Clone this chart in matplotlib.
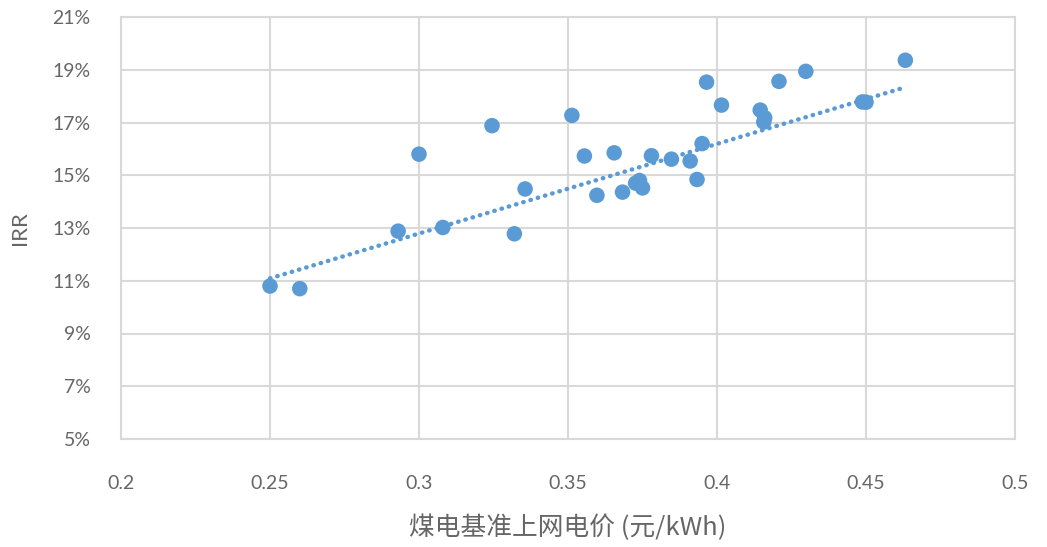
import numpy as np
import matplotlib
matplotlib.use("Agg")
import matplotlib.pyplot as plt
from matplotlib.ticker import FuncFormatter

# Data: coal benchmark grid price (yuan/kWh) vs IRR (%)
price = [0.250, 0.260, 0.293, 0.300, 0.308, 0.3245, 0.332, 0.3356, 0.3513, 0.3555,
         0.3597, 0.3655, 0.3683, 0.3727, 0.3740, 0.3750, 0.3780, 0.3847, 0.3910, 0.3933,
         0.3950, 0.3965, 0.4015, 0.4145, 0.4160, 0.4157, 0.4208, 0.4298, 0.4488, 0.4500,
         0.4632]
irr = [10.80, 10.70, 12.88, 15.80, 13.02, 16.88, 12.78, 14.48, 17.27, 15.73,
       14.24, 15.85, 14.36, 14.70, 14.80, 14.52, 15.74, 15.61, 15.54, 14.84,
       16.20, 18.53, 17.66, 17.47, 17.18, 17.02, 18.56, 18.94, 17.78, 17.77,
       19.36]

# Linear trendline (end points)
trend_price = [0.250, 0.463]
trend_irr = [11.09, 18.33]

xticks = [0.2, 0.25, 0.3, 0.35, 0.4, 0.45, 0.5]
xticklabels = ["0.2", "0.25", "0.3", "0.35", "0.4", "0.45", "0.5"]
yticks = [5, 7, 9, 11, 13, 15, 17, 19, 21]

blue = "#5B9BD5"
grid_c = "#D9D9D9"
text_c = "#666666"

fig = plt.figure(figsize=(10.47, 5.47), dpi=100)
ax = fig.add_axes([121/1047, 1-439/547, (1015-121)/1047, (439-17)/547])

ax.plot(trend_price, trend_irr, linestyle=(0, (0.1, 1.6)), color=blue,
        linewidth=3.2, dash_capstyle="round", zorder=2)
ax.scatter(price, irr, s=125, color=blue, edgecolors="none", zorder=3)

ax.set_xlim(0.2, 0.5)
ax.set_ylim(5, 21)
ax.set_xticks(xticks)
ax.set_xticklabels(xticklabels)
ax.set_yticks(yticks)
ax.yaxis.set_major_formatter(FuncFormatter(lambda v, p: f"{int(round(v))}%"))
ax.grid(True, color=grid_c, linewidth=1.5, zorder=0)
ax.set_axisbelow(True)
for s in ax.spines.values():
    s.set_color(grid_c)
    s.set_linewidth(1.5)
ax.tick_params(length=0, labelsize=14, colors=text_c)
for lab in ax.get_xticklabels() + ax.get_yticklabels():
    lab.set_family(["Lato", "DejaVu Sans"])
ax.tick_params(axis="y", pad=22)
ax.tick_params(axis="x", pad=26)

ax.set_xlabel("煤电基准上网电价 (元/kWh)", fontsize=18.5, color=text_c,
              family=["Noto Sans CJK SC", "DejaVu Sans"], labelpad=16)
ax.set_ylabel("IRR", fontsize=16, color=text_c, family=["Lato", "DejaVu Sans"], labelpad=16)

fig.savefig("out.png", dpi=100)
